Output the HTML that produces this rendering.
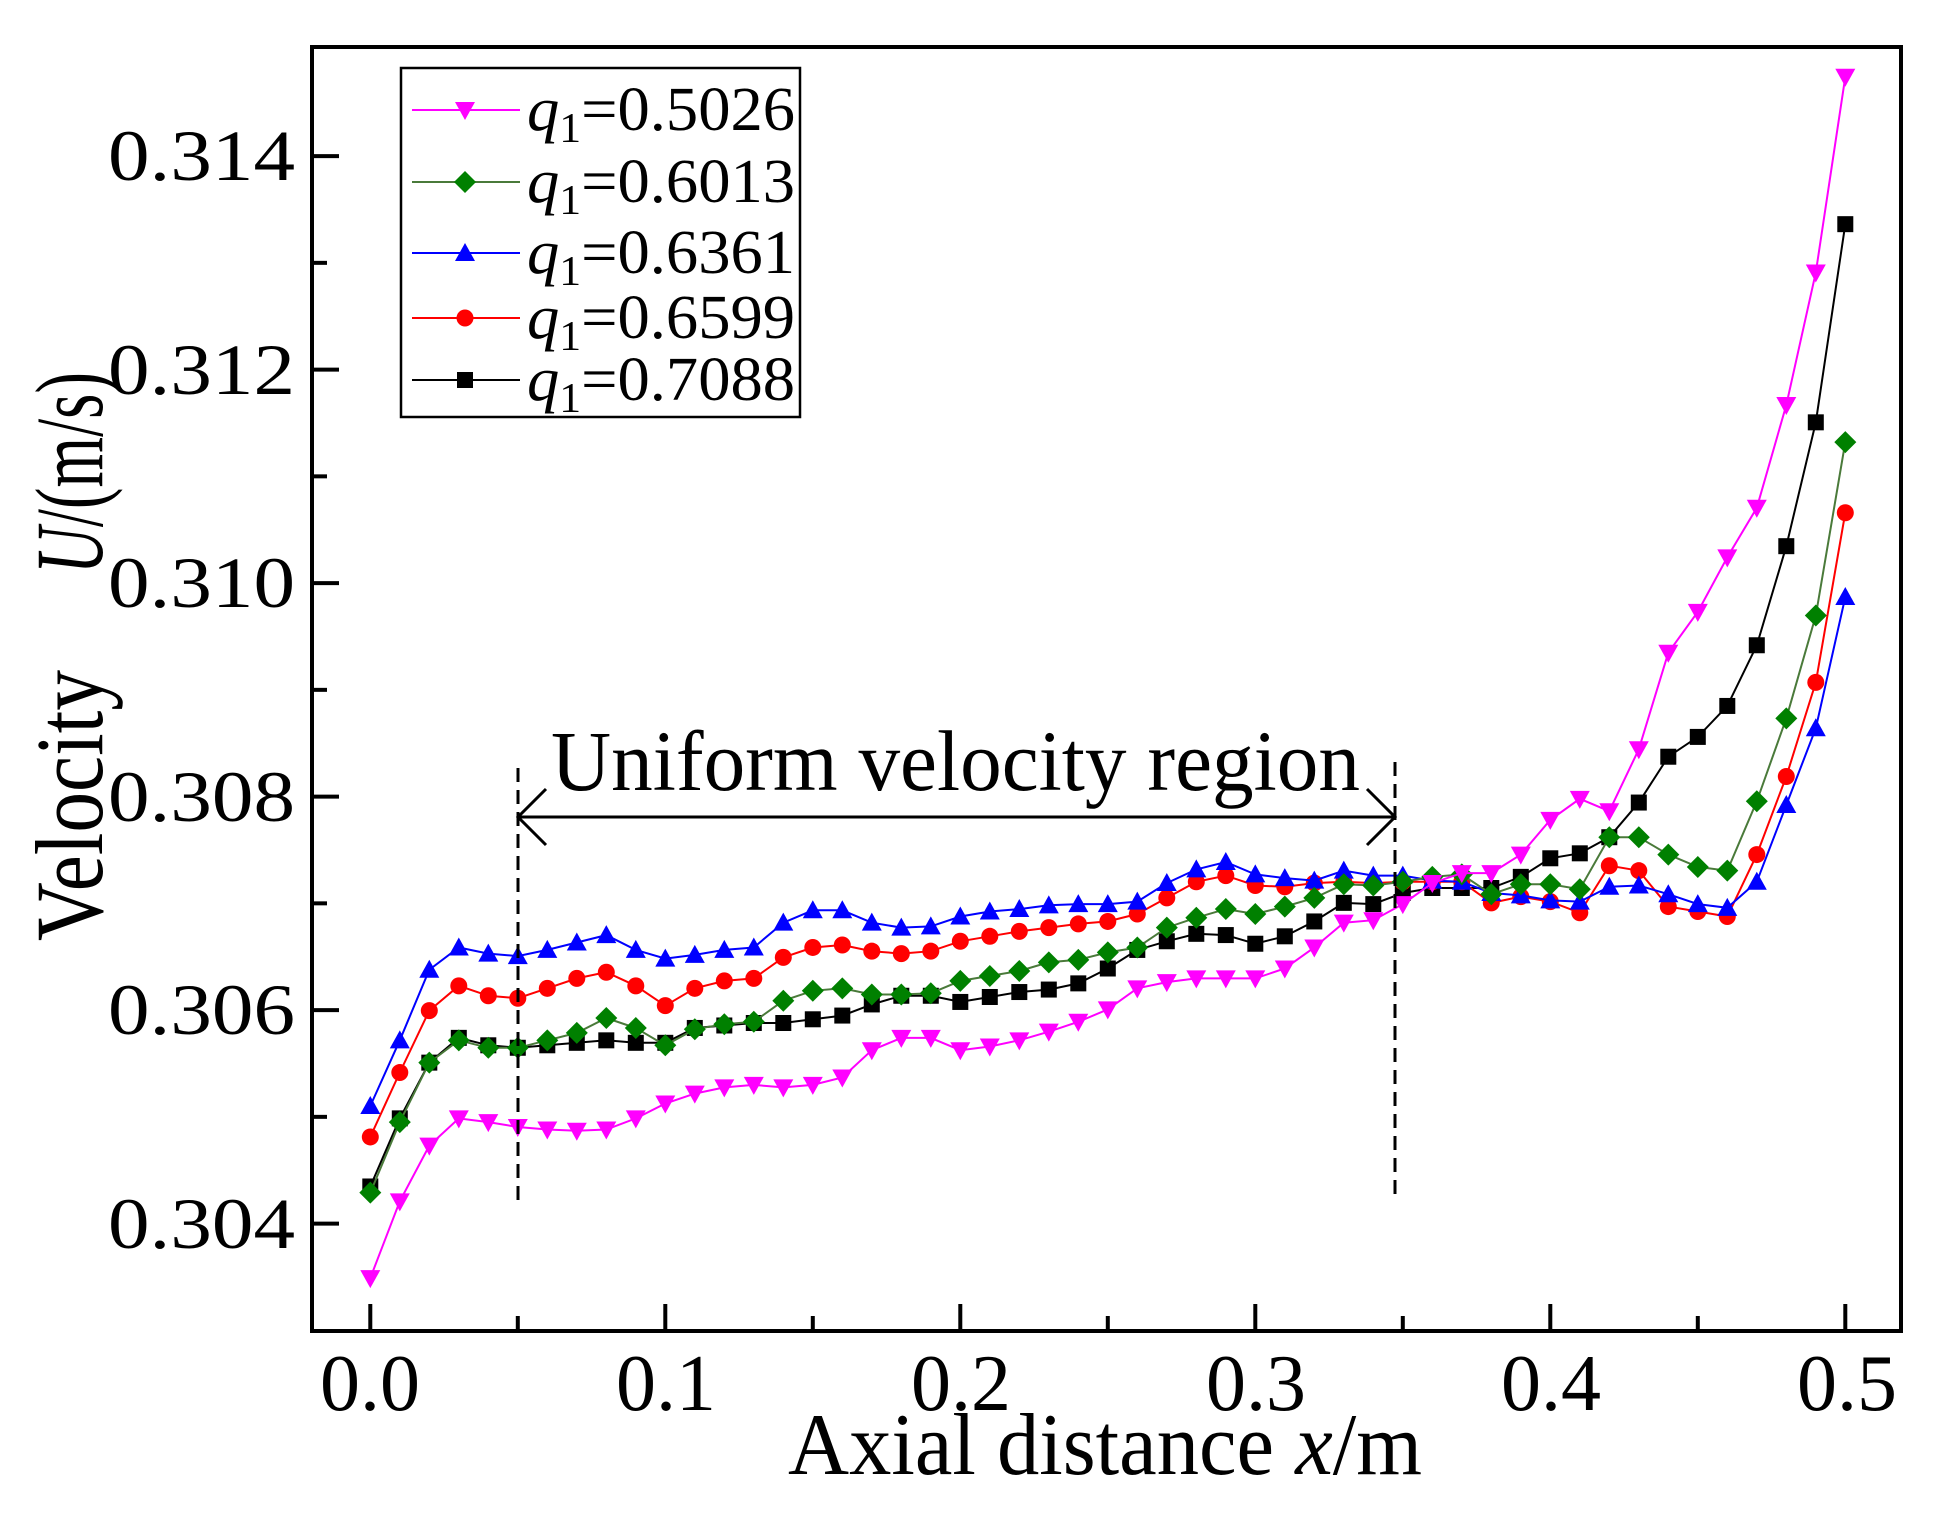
<!DOCTYPE html>
<html><head><meta charset="utf-8"><style>
html,body{margin:0;padding:0;background:#fff;}
svg{display:block;}
text{font-family:"Liberation Serif",serif;fill:#000;}
</style></head><body>
<svg id="s" width="1942" height="1519" viewBox="0 0 1942 1519" xmlns="http://www.w3.org/2000/svg">
<rect width="1942" height="1519" fill="#fff"/>
<g id="plot"></g>
<rect x="312" y="47" width="1589" height="1284" fill="none" stroke="#000" stroke-width="4"/>
<g id="ticks" stroke="#000" stroke-width="4"></g>
<g font-size="72">
<text x="295" y="180" text-anchor="end" textLength="187" lengthAdjust="spacingAndGlyphs">0.314</text>
<text x="295" y="394" text-anchor="end" textLength="187" lengthAdjust="spacingAndGlyphs">0.312</text>
<text x="295" y="607" text-anchor="end" textLength="187" lengthAdjust="spacingAndGlyphs">0.310</text>
<text x="295" y="821" text-anchor="end" textLength="187" lengthAdjust="spacingAndGlyphs">0.308</text>
<text x="295" y="1034" text-anchor="end" textLength="187" lengthAdjust="spacingAndGlyphs">0.306</text>
<text x="295" y="1248" text-anchor="end" textLength="187" lengthAdjust="spacingAndGlyphs">0.304</text>
</g>
<g font-size="80" text-anchor="middle">
<text x="370" y="1410">0.0</text>
<text x="666" y="1410">0.1</text>
<text x="961" y="1410">0.2</text>
<text x="1256" y="1410">0.3</text>
<text x="1551" y="1410">0.4</text>
<text x="1847" y="1410">0.5</text>
</g>
<text x="788" y="1474" font-size="88" textLength="634" lengthAdjust="spacingAndGlyphs">Axial distance <tspan font-style="italic">x</tspan>/m</text>
<text transform="translate(102,941) rotate(-90)" font-size="96" textLength="271" lengthAdjust="spacingAndGlyphs">Velocity</text>
<text transform="translate(102,574) rotate(-90)" font-size="96" textLength="202" lengthAdjust="spacingAndGlyphs"><tspan font-style="italic">U</tspan>/(m/s)</text>
<line x1="518" y1="768" x2="518" y2="1207" stroke="#000" stroke-width="3" stroke-dasharray="14,8"/>
<line x1="1395" y1="762" x2="1395" y2="1195" stroke="#000" stroke-width="3" stroke-dasharray="14,8"/>
<line x1="518" y1="817" x2="1395" y2="817" stroke="#000" stroke-width="3"/>
<polyline points="546,789 518,817 546,845" fill="none" stroke="#000" stroke-width="3"/>
<polyline points="1367,789 1395,817 1367,845" fill="none" stroke="#000" stroke-width="3"/>
<text x="551" y="790" font-size="86" textLength="809" lengthAdjust="spacingAndGlyphs">Uniform velocity region</text>
<rect x="401" y="68" width="399" height="349" fill="#fff" stroke="#000" stroke-width="2.5"/>
<g id="leg"></g>
</svg>
<script>
var NS="http://www.w3.org/2000/svg";
function el(t,a,p){var e=document.createElementNS(NS,t);for(var k in a)e.setAttribute(k,a[k]);p.appendChild(e);return e;}
var tk=document.getElementById('ticks');
for(var v=-1;v<=11;v++){var y=1223.6-v*106.75;if(y<50||y>1328)continue;
 var maj=(v%2==0);var L=maj?27:15;
 el('line',{x1:312,y1:y,x2:312+L,y2:y},tk);}
for(var i=0;i<=10;i++){var x=370.3+i*147.5;var L=(i%2==0)?27:15;el('line',{x1:x,y1:1331,x2:x,y2:1331-L},tk);}
var S=1.2385;
var data={
mag:[1032,970,925,903,906,910,912,913,912,903,891,883,878,876,878,876,870,848,838,838,848,845,840,833,825,815,798,793,790,790,790,782,765,745,743,730,713,705,705,690,662,645,655,605,527,494,450,410,327,220,62],
blu:[893,840,783,765,770,772,767,761,755,767,774,771,767,765,745,735,735,745,749,748,740,736,734,731,730,730,728,713,702,696,706,709,711,703,707,707,711,712,721,723,727,728,716,715,722,730,733,712,650,588,482],
red:[918,866,816,796,804,806,798,790,785,796,812,798,792,790,773,765,763,768,770,768,760,756,752,749,746,744,738,725,712,707,715,716,713,712,713,712,712,712,729,724,728,737,699,703,732,736,740,690,627,551,414],
grn:[963,906,858,840,846,846,840,834,822,830,844,831,827,825,808,800,798,803,803,802,792,788,784,777,775,769,765,749,741,734,738,732,725,714,715,712,708,706,722,714,714,718,676,676,690,700,703,647,580,497,357],
blk:[958,903,858,838,844,846,844,842,840,842,842,830,828,826,826,823,820,811,804,804,809,805,801,799,794,782,767,760,754,755,762,756,744,729,730,721,717,717,717,708,693,689,676,648,611,595,570,521,441,341,181]};
var cfg=[['blk','#000','sq'],['red','#ff0000','ci'],['blu','#0000ff','up'],['grn','#008000','di','#4a7a3a'],['mag','#ff00ff','dn']];
function marker(type,x,y,c,p){
 if(type=='sq')el('rect',{x:x-8,y:y-8,width:16,height:16,fill:c},p);
 else if(type=='ci')el('circle',{cx:x,cy:y,r:8.5,fill:c},p);
 else if(type=='up')el('polygon',{points:(x-10)+','+(y+8)+' '+(x+10)+','+(y+8)+' '+x+','+(y-10),fill:c},p);
 else if(type=='dn')el('polygon',{points:(x-10)+','+(y-8)+' '+(x+10)+','+(y-8)+' '+x+','+(y+10),fill:c},p);
 else if(type=='di')el('polygon',{points:(x-11)+','+y+' '+x+','+(y-11)+' '+(x+11)+','+y+' '+x+','+(y+11),fill:c},p);
}
var g=document.getElementById('plot');
cfg.forEach(function(c){var d=data[c[0]];var pts=d.map(function(v,i){return (370.3+i*29.5).toFixed(1)+','+(v*S).toFixed(1);}).join(' ');
 el('polyline',{points:pts,fill:'none',stroke:c[3]||c[1],'stroke-width':2},g);
 d.forEach(function(v,i){marker(c[2],370.3+i*29.5,v*S,c[1],g);});});
var lg=document.getElementById('leg');
var ent=[['mag','#ff00ff','dn','0.5026',110],['grn','#008000','di','0.6013',182,'#4a7a3a'],['blu','#0000ff','up','0.6361',253],['red','#ff0000','ci','0.6599',318],['blk','#000','sq','0.7088',380]];
ent.forEach(function(e){el('line',{x1:412,y1:e[4],x2:520,y2:e[4],stroke:e[5]||e[1],'stroke-width':2},lg);
 marker(e[2],465,e[4],e[1],lg);
 var t=el('text',{x:527,y:e[4]+20,'font-size':62,textLength:268,lengthAdjust:'spacingAndGlyphs'},lg);
 t.innerHTML='<tspan font-style="italic">q</tspan><tspan font-size="42" dy="12">1</tspan><tspan dy="-12">=0.'+e[3].slice(2)+'</tspan>';});
</script>
</body></html>
